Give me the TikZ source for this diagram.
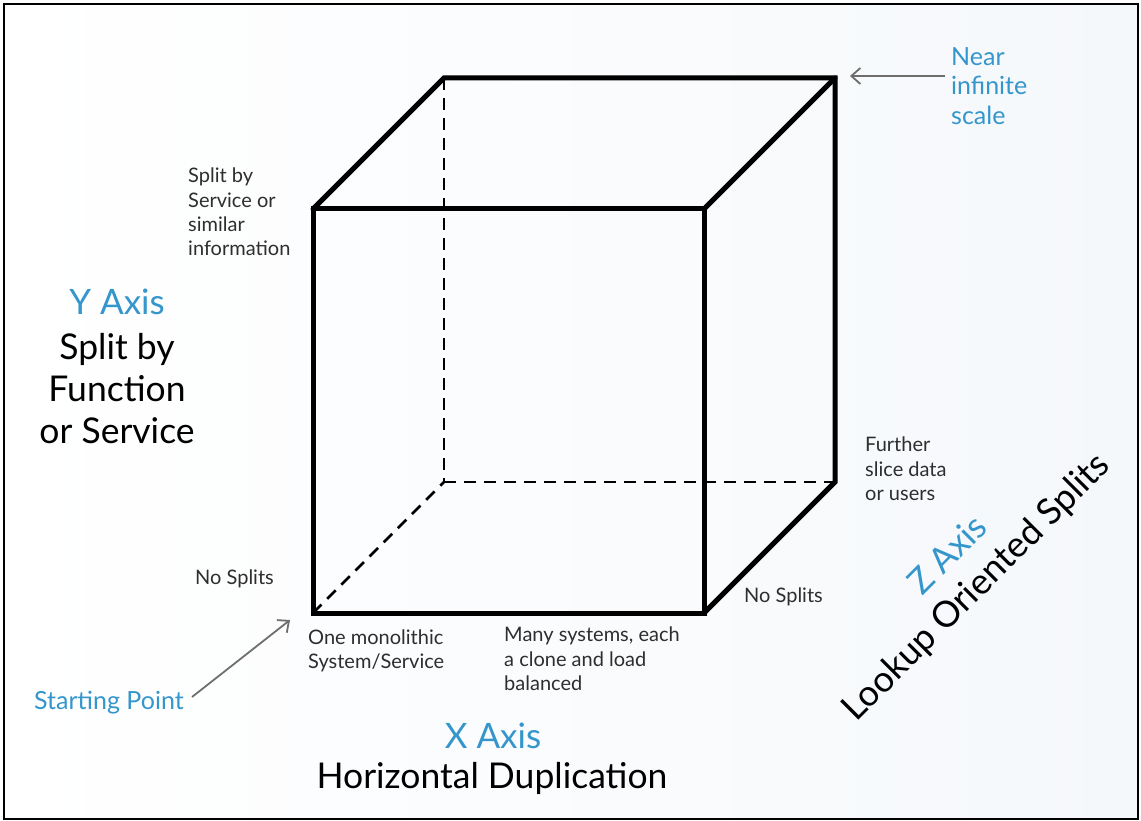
\documentclass[tikz,border=0pt]{standalone}
\usepackage{fontspec}
\setmainfont{Lato}
\usetikzlibrary{arrows.meta}
\definecolor{axisblue}{HTML}{3596CC}
\definecolor{labelgray}{HTML}{2E2E2E}
\definecolor{arrowgray}{HTML}{6E6E6E}
\definecolor{bgright}{HTML}{F5F8FB}
\tikzset{
  edge/.style={line width=5pt, line cap=round, line join=miter},
  hidden/.style={line width=2.6pt, dash pattern=on 12pt off 8pt},
  small/.style={font=\fontsize{20}{24.3}\selectfont, text=labelgray, align=left, inner sep=0pt},
  axtitle/.style={font=\fontsize{35}{40}\selectfont, text=axisblue, inner sep=0pt},
  axtext/.style={font=\fontsize{35.5}{42}\selectfont, text=black, inner sep=0pt, align=center},
  note/.style={font=\fontsize{25}{29.5}\selectfont, text=axisblue, inner sep=0pt, align=left},
  pointer/.style={draw=arrowgray, line width=1.8pt, -{Straight Barb[length=9pt,width=16pt,line width=1.8pt]}}
}
\begin{document}
\begin{tikzpicture}[x=1pt,y=-1pt]
\useasboundingbox (0,0) rectangle (1141,821);
\shade[left color=white, right color=bgright] (4,4) rectangle (1138,819);
\draw[line width=2.4pt, black] (4,4) rectangle (1138,819);

% cube corners
\coordinate (F1) at (313,209);
\coordinate (F2) at (704,209);
\coordinate (F3) at (704,613);
\coordinate (F4) at (313,613);
\coordinate (B1) at (444,78);
\coordinate (B2) at (835,78);
\coordinate (B3) at (835,482);
\coordinate (B4) at (444,482);

% hidden edges
\draw[hidden] (B1) -- (B4);
\draw[hidden] (B4) -- (B3);
\draw[hidden] (F4) -- (B4);

% visible edges
\draw[edge] (F1) -- (F2) -- (F3) -- (F4) -- cycle;
\draw[edge] (F1) -- (B1) -- (B2) -- (B3) -- (F3);
\draw[edge] (F2) -- (B2);

% small labels
\node[small, anchor=west] (splitsvc) at (188,212) {Split by\\Service or\\similar\\information};
\node[small, anchor=west] (nosplitL) at (195,579) {No Splits};
\node[small, anchor=west] (mono) at (308,651) {One monolithic\\System/Service};
\node[small, anchor=west] (many) at (504,659) {Many systems, each\\a clone and load\\balanced};
\node[small, anchor=west] (nosplitR) at (744,597) {No Splits};
\node[small, anchor=west] (further) at (865,469) {Further\\slice data\\or users};

% Y axis
\node[axtitle] (ytitle) at (117,302) {Y Axis};
\node[axtext] (ytext) at (117,389) {Split by\\Function\\or Service};

% X axis
\node[axtitle] (xtitle) at (493,736) {X Axis};
\node[axtext] (xtext) at (492,778) {Horizontal Duplication};

% Z axis
\node[axtitle, rotate=45] (ztitle) at (947,554) {Z Axis};
\node[axtext, font=\fontsize{36}{42}\selectfont, rotate=45] (ztext) at (977,588) {Lookup Oriented Splits};

% notes with pointers
\node[note, anchor=west] (near) at (951,86) {Near\\infinite\\scale};
\node[note, anchor=west] (start) at (34,703) {Starting Point};
\coordinate (nearTail) at (945,76);
\coordinate (nearHead) at (850,76);
\coordinate (startTail) at (192,697);
\coordinate (startHead) at (290,620);
\draw[pointer] (nearTail) -- (nearHead);
\draw[pointer] (startTail) -- (startHead);
\end{tikzpicture}
\end{document}
